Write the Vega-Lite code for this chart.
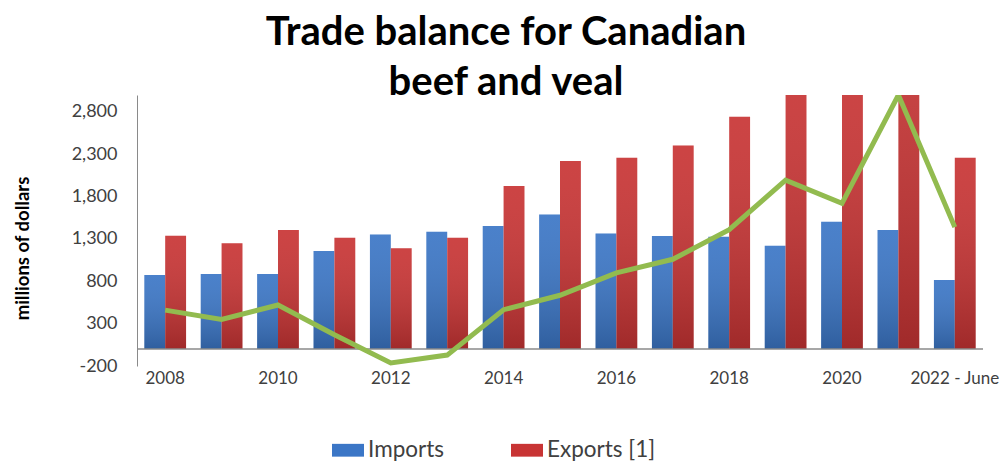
{
  "$schema": "https://vega.github.io/schema/vega-lite/v6.json",
  "width": 846,
  "height": 271,
  "autosize": {"type": "none"},
  "padding": {"left": 137, "top": 95, "right": 19, "bottom": 95},
  "background": "white",
  "config": {"font": "Lato", "view": {"stroke": null}},
  "title": {
    "text": ["Trade balance for Canadian", "beef and veal"],
    "fontSize": 40,
    "fontWeight": "bold",
    "font": "Lato",
    "color": "#000000",
    "lineHeight": 50,
    "anchor": "middle",
    "frame": "group",
    "dx": -54,
    "offset": -8
  },
  "datasets": {
    "trade": [
      {"year": "2008", "series": "Imports", "value": 874},
      {"year": "2008", "series": "Exports [1]", "value": 1338},
      {"year": "2009", "series": "Imports", "value": 885},
      {"year": "2009", "series": "Exports [1]", "value": 1248},
      {"year": "2010", "series": "Imports", "value": 885},
      {"year": "2010", "series": "Exports [1]", "value": 1405},
      {"year": "2011", "series": "Imports", "value": 1157},
      {"year": "2011", "series": "Exports [1]", "value": 1314},
      {"year": "2012", "series": "Imports", "value": 1354},
      {"year": "2012", "series": "Exports [1]", "value": 1189},
      {"year": "2013", "series": "Imports", "value": 1385},
      {"year": "2013", "series": "Exports [1]", "value": 1314},
      {"year": "2014", "series": "Imports", "value": 1452},
      {"year": "2014", "series": "Exports [1]", "value": 1924},
      {"year": "2015", "series": "Imports", "value": 1590},
      {"year": "2015", "series": "Exports [1]", "value": 2220},
      {"year": "2016", "series": "Imports", "value": 1366},
      {"year": "2016", "series": "Exports [1]", "value": 2259},
      {"year": "2017", "series": "Imports", "value": 1334},
      {"year": "2017", "series": "Exports [1]", "value": 2405},
      {"year": "2018", "series": "Imports", "value": 1326},
      {"year": "2018", "series": "Exports [1]", "value": 2743},
      {"year": "2019", "series": "Imports", "value": 1220},
      {"year": "2019", "series": "Exports [1]", "value": 3215},
      {"year": "2020", "series": "Imports", "value": 1503},
      {"year": "2020", "series": "Exports [1]", "value": 3223},
      {"year": "2021", "series": "Imports", "value": 1405},
      {"year": "2021", "series": "Exports [1]", "value": 4405},
      {"year": "2022 - June", "series": "Imports", "value": 815},
      {"year": "2022 - June", "series": "Exports [1]", "value": 2259}
    ],
    "balance": [
      {"year": "2008", "value": 460},
      {"year": "2009", "value": 350},
      {"year": "2010", "value": 520},
      {"year": "2011", "value": 170},
      {"year": "2012", "value": -165},
      {"year": "2013", "value": -71},
      {"year": "2014", "value": 465},
      {"year": "2015", "value": 635},
      {"year": "2016", "value": 900},
      {"year": "2017", "value": 1060},
      {"year": "2018", "value": 1410},
      {"year": "2019", "value": 1995},
      {"year": "2020", "value": 1720},
      {"year": "2021", "value": 3000},
      {"year": "2022 - June", "value": 1440}
    ]
  },
  "layer": [
    {
      "data": {"name": "trade"},
      "mark": {"type": "bar", "clip": true},
      "encoding": {
        "x": {
          "field": "year",
          "type": "nominal",
          "sort": null,
          "scale": {"paddingInner": 0.26, "paddingOuter": 0.13},
          "axis": {
            "title": null,
            "values": ["2008", "2010", "2012", "2014", "2016", "2018", "2020", "2022 - June"],
            "labelAngle": 0,
            "ticks": false,
            "domain": false,
            "grid": false,
            "labelPadding": 4,
            "labelFontSize": 17,
            "labelColor": "#404040",
            "labelFont": "Lato"
          }
        },
        "xOffset": {
          "field": "series",
          "type": "nominal",
          "scale": {"domain": ["Imports", "Exports [1]"]}
        },
        "y": {
          "field": "value",
          "type": "quantitative",
          "scale": {"domain": [-200, 3000], "nice": false, "zero": false},
          "axis": {
            "title": "millions of dollars",
            "values": [-200, 300, 800, 1300, 1800, 2300, 2800],
            "labelExpr": "datum.value < 0 ? '-' + format(-datum.value, ',.0f') : format(datum.value, ',.0f')",
            "grid": false,
            "ticks": false,
            "labelPadding": 20,
            "labelFontSize": 18,
            "labelColor": "#404040",
            "labelFont": "Lato",
            "domainColor": "#8a8a8a",
            "titleFont": "Lato",
            "titleFontSize": 18.5,
            "titleFontWeight": "bold",
            "titleColor": "#000000",
            "titleAngle": -90,
            "titleX": -115,
            "titleY": 153,
            "titleAlign": "center",
            "titleBaseline": "middle"
          }
        },
        "color": {
          "field": "series",
          "type": "nominal",
          "scale": {"domain": ["Imports", "Exports [1]"], "range": ["#3b76c6", "#c83434"]},
          "legend": {
            "title": null,
            "orient": "none",
            "direction": "horizontal",
            "legendX": 195,
            "legendY": 339,
            "symbolType": "M-1,-0.4H1V0.4H-1Z",
            "symbolSize": 1024,
            "symbolStrokeWidth": 0,
            "labelFontSize": 22.5,
            "labelFont": "Lato",
            "labelColor": "#404040",
            "labelOffset": 4,
            "columnPadding": 66
          }
        }
      }
    },
    {
      "data": {"name": "trade"},
      "mark": {
        "type": "bar",
        "clip": true,
        "color": {
          "gradient": "linear",
          "x1": 0, "y1": 0, "x2": 0, "y2": 1,
          "stops": [
            {"offset": 0, "color": "rgba(255,255,255,0.08)"},
            {"offset": 1, "color": "rgba(0,0,0,0.2)"}
          ]
        }
      },
      "encoding": {
        "x": {"field": "year", "type": "nominal", "sort": null},
        "xOffset": {"field": "series", "type": "nominal", "scale": {"domain": ["Imports", "Exports [1]"]}},
        "y": {"field": "value", "type": "quantitative"}
      }
    },
    {
      "data": {"values": [{}]},
      "mark": {"type": "rule", "color": "#8a8a8a", "strokeWidth": 1.5},
      "encoding": {"y": {"datum": 0, "type": "quantitative"}}
    },
    {
      "data": {"name": "balance"},
      "mark": {"type": "line", "clip": true, "color": "#92bb4f", "strokeWidth": 5, "strokeJoin": "miter"},
      "encoding": {
        "x": {"field": "year", "type": "nominal", "sort": null},
        "y": {"field": "value", "type": "quantitative"}
      }
    }
  ]
}
